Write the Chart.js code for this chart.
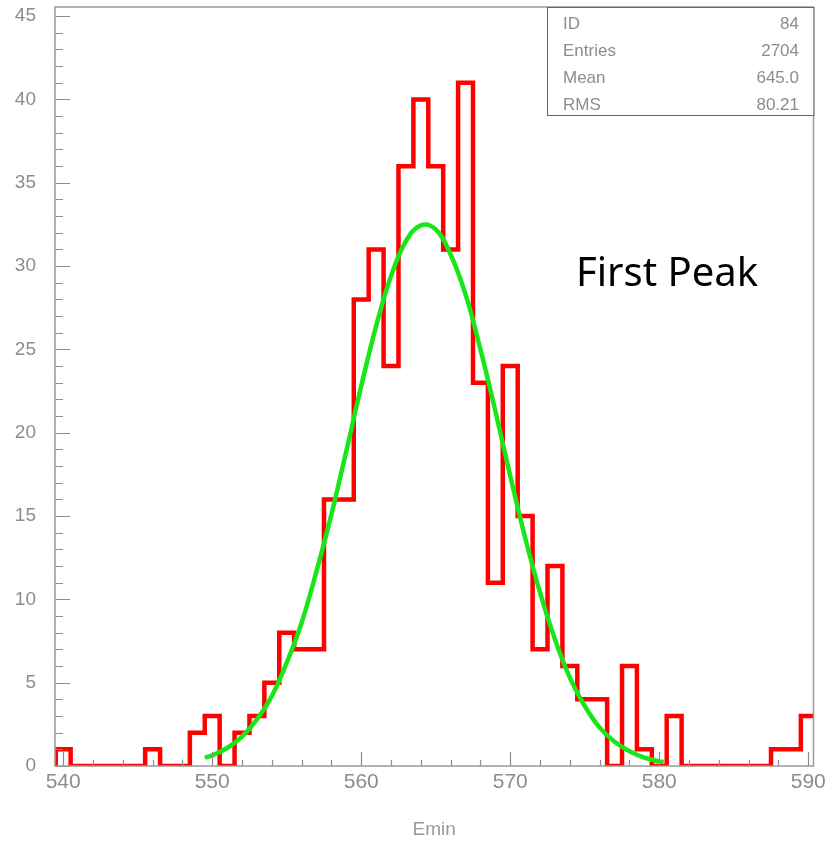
<!DOCTYPE html>
<html>
<head>
<meta charset="utf-8">
<script src="https://cdn.jsdelivr.net/npm/chart.js@4.4.1/dist/chart.umd.min.js"></script>
<style>
	html, body { margin: 0; padding: 0; background: #fff; }
	#wrap { width: 829px; height: 844px; }
</style>
</head>
<body>
<div id="wrap"><canvas id="histo"></canvas></div>
<script>
// bin centres (Emin) and counts
var binCenters = [540,541,542,543,544,545,546,547,548,549,550,551,552,553,554,555,556,557,558,559,
	560,561,562,563,564,565,566,567,568,569,570,571,572,573,574,575,576,577,578,579,
	580,581,582,583,584,585,586,587,588,589,590];
var binCounts = [1,0,0,0,0,0,1,0,0,2,3,0,2,3,5,8,7,7,16,16,
	28,31,24,36,40,36,31,41,23,11,24,15,7,12,6,4,4,0,6,1,
	0,3,0,0,0,0,0,0,1,1,3];

// green fit curve
var fitX = [549.5,550,551,552,553,554,555,556,557,558,559,560,561,562,563,564,565,
	566,567,568,569,570,571,572,573,574,575,576,577,578,579,580,580.3];
var fitY = [0.5,0.64,1.08,1.77,2.8,4.2,6.2,8.6,11.7,15.1,18.9,22.8,26.4,29.4,31.5,32.45,32.2,
	30.7,28.3,25.0,21.3,17.4,13.7,10.4,7.6,5.3,3.6,2.3,1.45,0.88,0.5,0.28,0.24];

var xTicks = [540,550,560,570,580,590];
var yTicks = [0,5,10,15,20,25,30,35,40,45];

var statLabels = ['ID','Entries','Mean','RMS'];
var statValues = ['84','2704','645.0','80.21'];
var note = 'First Peak';

// histogram outline as stepped line through the bin edges
var histPts = [{x: binCenters[0] - 0.5, y: 0}];
for (var i in binCenters) {
	histPts.push({x: binCenters[i] - 0.5, y: binCounts[i]});
}
histPts.push({x: binCenters[binCenters.length - 1] + 0.5, y: binCounts[binCounts.length - 1]});

var fitPts = [];
for (var j in fitX) {
	fitPts.push({x: fitX[j], y: fitY[j]});
}

var grey = '#8c8c8c';

var decor = {
	id: 'decor',
	afterDatasetsDraw: function(chart) {
		var c = chart.ctx;
		var a = chart.chartArea;
		var xs = chart.scales.x;
		var ys = chart.scales.y;
		c.save();
		c.strokeStyle = grey;
		c.lineWidth = 1.2;
		c.beginPath();
		// inward ticks, y: every unit, long at 5
		for (var v = 0; v <= 45; v++) {
			var py = Math.round(ys.getPixelForValue(v)) + 0.5;
			var len = (v % 5 === 0) ? 15 : 8;
			c.moveTo(a.left, py);
			c.lineTo(a.left + len, py);
		}
		// x: every 2, long at 10
		for (var u = 540; u <= 590; u += 2) {
			var px = Math.round(xs.getPixelForValue(u)) + 0.5;
			var l2 = (u % 10 === 0) ? 14 : 6;
			c.moveTo(px, a.bottom);
			c.lineTo(px, a.bottom - l2);
		}
		c.stroke();

		// frame
		c.strokeStyle = '#999';
		c.lineWidth = 1.5;
		c.strokeRect(a.left, a.top, a.right - a.left, a.bottom - a.top);

		// stats box
		var bx = 547, by = a.top, bw = a.right - 547, bh = 108;
		c.fillStyle = '#fff';
		c.fillRect(bx, by, bw, bh);
		c.strokeStyle = '#666';
		c.lineWidth = 1;
		c.strokeRect(bx + 0.5, by + 0.5, bw, bh);
		c.font = '17px "Liberation Sans", sans-serif';
		c.fillStyle = grey;
		c.textBaseline = 'alphabetic';
		for (var k in statLabels) {
			var base = 29 + k * 27;
			c.textAlign = 'left';
			c.fillText(statLabels[k], 563, base);
			c.textAlign = 'right';
			c.fillText(statValues[k], 799, base);
		}

		// annotation
		c.font = '40px "Noto Sans", sans-serif';
		c.fillStyle = '#000';
		c.textAlign = 'left';
		c.fillText(note, 576, 286);
		c.restore();
	}
};

var ctx = document.getElementById('histo');

var histChart = new Chart(ctx, {
	type: 'scatter',
	data: {
		datasets: [
			{
				type: 'line',
				label: 'Emin',
				data: histPts,
				stepped: true,
				borderColor: '#ff0000',
				borderWidth: 4.5,
				pointRadius: 0,
				fill: false,
				order: 2
			},
			{
				type: 'line',
				label: 'fit',
				data: fitPts,
				borderColor: '#19e619',
				borderWidth: 4.5,
				pointRadius: 0,
				tension: 0.4,
				fill: false,
				order: 1
			}
		]
	},
	plugins: [decor],
	options: {
		responsive: true,
		maintainAspectRatio: false,
		animation: false,
		layout: { padding: { left: 0, top: 7, right: 15.5, bottom: 0 } },
		plugins: {
			legend: { display: false },
			tooltip: { enabled: false }
		},
		scales: {
			x: {
				type: 'linear',
				min: 539.45,
				max: 590.35,
				afterBuildTicks: function(s) { s.ticks = xTicks.map(function(v) { return {value: v}; }); },
				afterFit: function(s) { s.height = 78; s.paddingLeft = 0; s.paddingRight = 0; },
				grid: { display: false, drawTicks: false },
				border: { display: false },
				ticks: {
					autoSkip: false,
					maxRotation: 0,
					padding: 4,
					color: grey,
					font: { family: '"Liberation Sans", sans-serif', size: 21 }
				},
				title: {
					display: true,
					text: 'Emin',
					color: '#999',
					padding: { top: 0, bottom: 3 },
					font: { family: '"Liberation Sans", sans-serif', size: 19 }
				}
			},
			y: {
				min: 0,
				max: 45.55,
				afterBuildTicks: function(s) { s.ticks = yTicks.map(function(v) { return {value: v}; }); },
				afterFit: function(s) { s.width = 55; s.paddingTop = 0; s.paddingBottom = 0; },
				grid: { display: false, drawTicks: false },
				border: { display: false },
				ticks: {
					padding: 19,
					color: grey,
					font: { family: '"Liberation Sans", sans-serif', size: 19 }
				}
			}
		}
	}
});
</script>
</body>
</html>
